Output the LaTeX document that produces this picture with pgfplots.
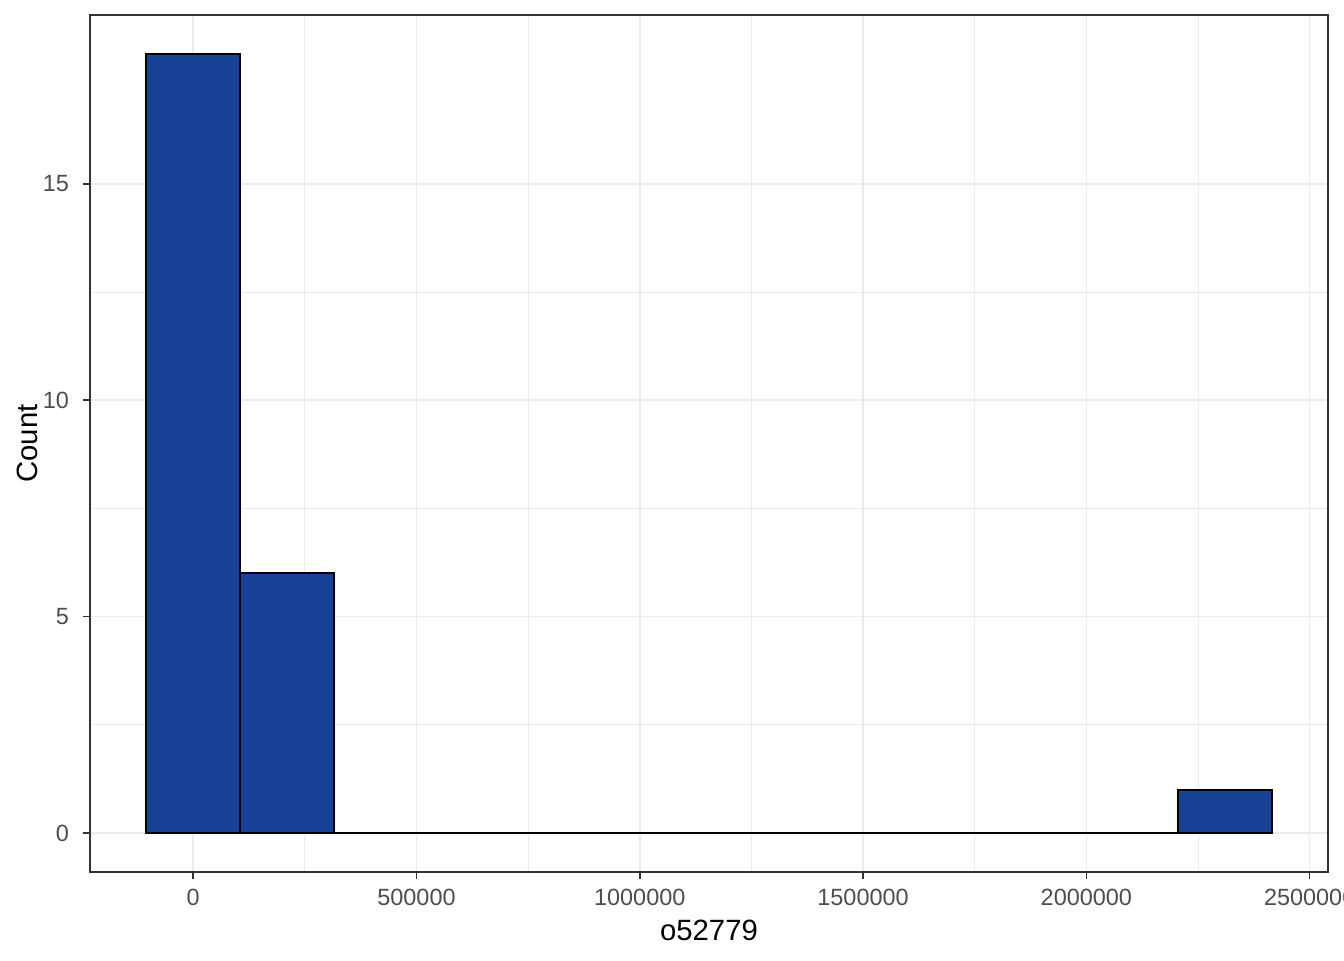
\documentclass[border=0pt]{standalone}
\usepackage{pgfplots}
\pgfplotsset{compat=1.18}
\usepackage{fontspec}
\setmainfont{Liberation Sans}
\definecolor{barfill}{HTML}{174297}
\definecolor{gridgray}{HTML}{EBEBEB}
\definecolor{gray30}{HTML}{4D4D4D}
\definecolor{gray20}{HTML}{333333}
\begin{document}
\begin{tikzpicture}
\begin{axis}[
  scale only axis,
  width=464.25pt, height=321.4pt,
  xmin=-231000, xmax=2541000,
  ymin=-0.9, ymax=18.9,
  xtick={0,500000,1000000,1500000,2000000,2500000},
  xticklabels={0,500000,1000000,1500000,2000000,2500000},
  ytick={0,5,10,15},
  yticklabels={0,5,10,15},
  minor x tick num=1, minor y tick num=1,
  scaled x ticks=false,
  grid=both,
  major grid style={gridgray, line width=0.6pt},
  minor grid style={gridgray, line width=0.3pt},
  tick align=outside, tick pos=left,
  major tick length=2.75pt, minor tick length=0pt,
  tick style={gray20, line width=0.6pt},
  axis line style={gray20, line width=0.75pt},
  tick label style={font=\fontsize{8.8}{10}\selectfont, text=gray30},
  xticklabel style={anchor=north, inner sep=0pt, yshift=-3.6pt},
  yticklabel style={anchor=east, inner sep=0pt, xshift=-4.95pt},
  label style={font=\fontsize{11}{13}\selectfont, text=black},
  xlabel={o52779},
  ylabel={Count},
  xlabel style={at={(axis description cs:0.5,-0.0677)}, anchor=center},
  ylabel style={at={(axis description cs:-0.0508,0.5)}, anchor=center},
]
\addplot[ybar interval, fill=barfill, draw=black, line width=0.8pt] coordinates {
  (-105000,18)
  (105000,6)
  (315000,0)
  (525000,0)
  (735000,0)
  (945000,0)
  (1155000,0)
  (1365000,0)
  (1575000,0)
  (1785000,0)
  (1995000,0)
  (2205000,1)
  (2415000,1)
};
\end{axis}
\pgfresetboundingbox
\useasboundingbox (-33.75pt,-33pt) rectangle (470.25pt,327pt);
\end{tikzpicture}
\end{document}
